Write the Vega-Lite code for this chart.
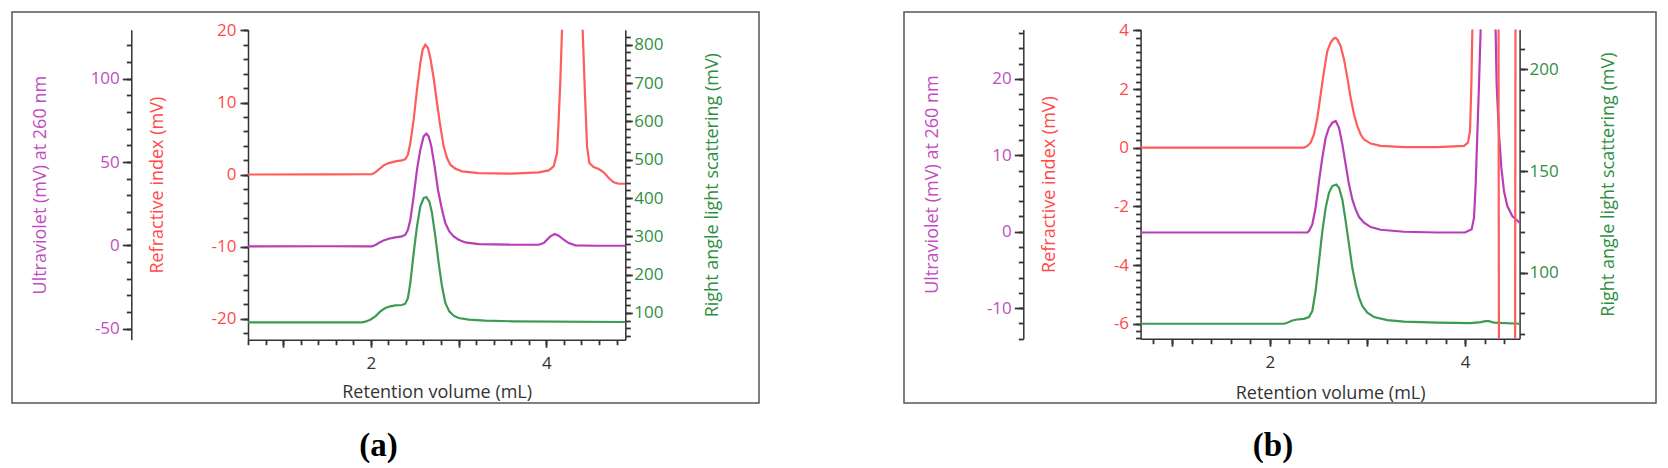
{
  "$schema": "https://vega.github.io/schema/vega-lite/v6.json",
  "background": "white",
  "padding": {"left": 11, "top": 11, "right": 4, "bottom": 2},
  "autosize": {"type": "pad"},
  "spacing": 143,
  "config": {
    "view": {"stroke": "#555555", "strokeWidth": 1.5},
    "axis": {
      "grid": false,
      "domainColor": "#333333",
      "domainWidth": 1.5,
      "tickColor": "#333333",
      "tickWidth": 1.8,
      "labelFont": "Open Sans",
      "titleFont": "Open Sans",
      "labelFontSize": 17,
      "titleFontSize": 18,
      "titleFontWeight": "normal",
      "labelOverlap": false,
      "labelFlush": false,
      "labelBound": false
    }
  },
  "datasets": {
    "a_ri": [
      {"x": 0.6, "y": 0, "s": 1}, {"x": 1.5, "y": 0.02, "s": 1}, {"x": 2.013, "y": 0.05, "s": 1}, {"x": 2.051, "y": 0.3, "s": 1},
      {"x": 2.089, "y": 0.67, "s": 1}, {"x": 2.146, "y": 1.27, "s": 1}, {"x": 2.203, "y": 1.59, "s": 1}, {"x": 2.279, "y": 1.82, "s": 1},
      {"x": 2.355, "y": 1.96, "s": 1}, {"x": 2.393, "y": 2.15, "s": 1}, {"x": 2.423, "y": 2.75, "s": 1}, {"x": 2.45, "y": 4.37, "s": 1},
      {"x": 2.488, "y": 7.61, "s": 1}, {"x": 2.526, "y": 11.78, "s": 1}, {"x": 2.564, "y": 15.48, "s": 1}, {"x": 2.59, "y": 17.33, "s": 1},
      {"x": 2.621, "y": 18.03, "s": 1}, {"x": 2.651, "y": 17.56, "s": 1}, {"x": 2.678, "y": 16.18, "s": 1}, {"x": 2.716, "y": 13.4, "s": 1},
      {"x": 2.754, "y": 9.93, "s": 1}, {"x": 2.792, "y": 6.69, "s": 1}, {"x": 2.83, "y": 3.91, "s": 1}, {"x": 2.868, "y": 2.29, "s": 1},
      {"x": 2.906, "y": 1.36, "s": 1}, {"x": 2.963, "y": 0.81, "s": 1}, {"x": 3.039, "y": 0.44, "s": 1}, {"x": 3.229, "y": 0.2, "s": 1},
      {"x": 3.609, "y": 0.11, "s": 1}, {"x": 3.913, "y": 0.3, "s": 1}, {"x": 4.027, "y": 0.57, "s": 1}, {"x": 4.084, "y": 1.13, "s": 1},
      {"x": 4.122, "y": 2.98, "s": 1}, {"x": 4.141, "y": 7.61, "s": 1}, {"x": 4.16, "y": 13.17, "s": 1}, {"x": 4.179, "y": 20.11, "s": 1},
      {"x": 4.414, "y": 20.11, "s": 2}, {"x": 4.437, "y": 12.24, "s": 2}, {"x": 4.464, "y": 3.91, "s": 2}, {"x": 4.49, "y": 1.59, "s": 2},
      {"x": 4.539, "y": 1.04, "s": 2}, {"x": 4.597, "y": 0.76, "s": 2}, {"x": 4.654, "y": 0.3, "s": 2}, {"x": 4.711, "y": -0.49, "s": 2},
      {"x": 4.768, "y": -1.09, "s": 2}, {"x": 4.825, "y": -1.28, "s": 2}, {"x": 4.9, "y": -1.28, "s": 2}
    ],
    "a_uv": [
      {"x": 0.6, "y": -0.6}, {"x": 1.5, "y": -0.5}, {"x": 2.013, "y": -0.6}, {"x": 2.051, "y": 0.2}, {"x": 2.089, "y": 1.4},
      {"x": 2.146, "y": 3.0}, {"x": 2.203, "y": 4.0}, {"x": 2.279, "y": 4.8}, {"x": 2.355, "y": 5.4}, {"x": 2.393, "y": 6.4},
      {"x": 2.423, "y": 9.4}, {"x": 2.45, "y": 15.4}, {"x": 2.488, "y": 29.4}, {"x": 2.526, "y": 45.4}, {"x": 2.564, "y": 57.4},
      {"x": 2.602, "y": 65.4}, {"x": 2.632, "y": 67.0}, {"x": 2.659, "y": 65.4}, {"x": 2.689, "y": 59.4}, {"x": 2.727, "y": 47.4},
      {"x": 2.765, "y": 33.4}, {"x": 2.811, "y": 21.4}, {"x": 2.849, "y": 13.4}, {"x": 2.894, "y": 8.4}, {"x": 2.944, "y": 5.4},
      {"x": 3.001, "y": 3.4}, {"x": 3.077, "y": 1.8}, {"x": 3.229, "y": 0.8}, {"x": 3.609, "y": 0.4}, {"x": 3.913, "y": 0.4},
      {"x": 3.97, "y": 1.4}, {"x": 4.008, "y": 3.4}, {"x": 4.046, "y": 5.4}, {"x": 4.095, "y": 6.8}, {"x": 4.141, "y": 5.8},
      {"x": 4.198, "y": 3.4}, {"x": 4.255, "y": 1.4}, {"x": 4.331, "y": 0.0}, {"x": 4.564, "y": -0.2}, {"x": 4.9, "y": -0.2}
    ],
    "a_ls": [
      {"x": 0.6, "y": 75.6}, {"x": 1.5, "y": 75.6}, {"x": 1.899, "y": 75.6}, {"x": 1.937, "y": 77.4}, {"x": 1.994, "y": 82.6},
      {"x": 2.051, "y": 91.3}, {"x": 2.108, "y": 104.3}, {"x": 2.165, "y": 113.0}, {"x": 2.222, "y": 117.4}, {"x": 2.279, "y": 120.0},
      {"x": 2.355, "y": 120.8}, {"x": 2.393, "y": 124.3}, {"x": 2.423, "y": 139.1}, {"x": 2.45, "y": 178.2}, {"x": 2.488, "y": 256.5},
      {"x": 2.526, "y": 326.0}, {"x": 2.564, "y": 378.2}, {"x": 2.602, "y": 400.0}, {"x": 2.632, "y": 402.6}, {"x": 2.666, "y": 391.3},
      {"x": 2.697, "y": 360.9}, {"x": 2.735, "y": 300.0}, {"x": 2.773, "y": 230.4}, {"x": 2.811, "y": 169.6}, {"x": 2.849, "y": 126.1},
      {"x": 2.894, "y": 104.3}, {"x": 2.944, "y": 93.0}, {"x": 3.001, "y": 86.9}, {"x": 3.115, "y": 82.6}, {"x": 3.305, "y": 80.0},
      {"x": 3.609, "y": 78.3}, {"x": 4.9, "y": 76.5}
    ],
    "b_ri": [
      {"x": 0.676, "y": 0, "s": 1}, {"x": 1.5, "y": 0.0, "s": 1}, {"x": 2.35, "y": 0.0, "s": 1}, {"x": 2.384, "y": 0.06, "s": 1},
      {"x": 2.418, "y": 0.17, "s": 1}, {"x": 2.452, "y": 0.45, "s": 1}, {"x": 2.487, "y": 1.02, "s": 1}, {"x": 2.521, "y": 1.82, "s": 1},
      {"x": 2.555, "y": 2.61, "s": 1}, {"x": 2.589, "y": 3.29, "s": 1}, {"x": 2.623, "y": 3.58, "s": 1}, {"x": 2.657, "y": 3.73, "s": 1},
      {"x": 2.675, "y": 3.74, "s": 1}, {"x": 2.692, "y": 3.69, "s": 1}, {"x": 2.726, "y": 3.46, "s": 1}, {"x": 2.76, "y": 3.01, "s": 1},
      {"x": 2.794, "y": 2.39, "s": 1}, {"x": 2.828, "y": 1.7, "s": 1}, {"x": 2.862, "y": 1.14, "s": 1}, {"x": 2.896, "y": 0.74, "s": 1},
      {"x": 2.931, "y": 0.45, "s": 1}, {"x": 2.965, "y": 0.28, "s": 1}, {"x": 3.033, "y": 0.14, "s": 1}, {"x": 3.136, "y": 0.06, "s": 1},
      {"x": 3.375, "y": 0.02, "s": 1}, {"x": 3.716, "y": 0.02, "s": 1}, {"x": 3.989, "y": 0.06, "s": 1}, {"x": 4.03, "y": 0.17, "s": 1},
      {"x": 4.051, "y": 0.57, "s": 1}, {"x": 4.065, "y": 2.16, "s": 1}, {"x": 4.075, "y": 4.031, "s": 1},
      {"x": 4.343, "y": 4.031, "s": 2}, {"x": 4.347, "y": -6.508, "s": 2},
      {"x": 4.513, "y": -6.508, "s": 3}, {"x": 4.517, "y": 4.031, "s": 3}
    ],
    "b_uv": [
      {"x": 0.676, "y": -0.1, "s": 1}, {"x": 2.384, "y": -0.1, "s": 1}, {"x": 2.401, "y": 0.09, "s": 1}, {"x": 2.435, "y": 0.96, "s": 1},
      {"x": 2.469, "y": 3.14, "s": 1}, {"x": 2.504, "y": 6.63, "s": 1}, {"x": 2.538, "y": 9.69, "s": 1}, {"x": 2.572, "y": 12.3, "s": 1},
      {"x": 2.606, "y": 13.61, "s": 1}, {"x": 2.64, "y": 14.27, "s": 1}, {"x": 2.675, "y": 14.49, "s": 1}, {"x": 2.709, "y": 13.61, "s": 1},
      {"x": 2.743, "y": 11.43, "s": 1}, {"x": 2.777, "y": 8.81, "s": 1}, {"x": 2.811, "y": 6.2, "s": 1}, {"x": 2.845, "y": 4.23, "s": 1},
      {"x": 2.879, "y": 2.92, "s": 1}, {"x": 2.914, "y": 1.92, "s": 1}, {"x": 2.965, "y": 1.18, "s": 1}, {"x": 3.033, "y": 0.61, "s": 1},
      {"x": 3.136, "y": 0.26, "s": 1}, {"x": 3.375, "y": 0.0, "s": 1}, {"x": 3.716, "y": -0.1, "s": 1}, {"x": 4.0, "y": -0.1, "s": 1},
      {"x": 4.068, "y": 0.31, "s": 1}, {"x": 4.092, "y": 1.83, "s": 1}, {"x": 4.109, "y": 6.2, "s": 1}, {"x": 4.126, "y": 12.74, "s": 1},
      {"x": 4.143, "y": 19.28, "s": 1}, {"x": 4.16, "y": 26.48, "s": 1},
      {"x": 4.313, "y": 26.48, "s": 2}, {"x": 4.324, "y": 19.28, "s": 2}, {"x": 4.348, "y": 12.74, "s": 2}, {"x": 4.372, "y": 8.38, "s": 2},
      {"x": 4.399, "y": 5.32, "s": 2}, {"x": 4.433, "y": 3.36, "s": 2}, {"x": 4.484, "y": 2.05, "s": 2}, {"x": 4.559, "y": 1.18, "s": 2}
    ],
    "b_ls": [
      {"x": 0.676, "y": 74.9}, {"x": 2.145, "y": 74.9}, {"x": 2.179, "y": 75.4}, {"x": 2.231, "y": 76.5}, {"x": 2.282, "y": 77.0},
      {"x": 2.35, "y": 77.3}, {"x": 2.401, "y": 78.2}, {"x": 2.435, "y": 81.1}, {"x": 2.469, "y": 91.0}, {"x": 2.504, "y": 105.7},
      {"x": 2.538, "y": 120.5}, {"x": 2.572, "y": 131.9}, {"x": 2.606, "y": 139.3}, {"x": 2.64, "y": 142.6}, {"x": 2.681, "y": 143.4},
      {"x": 2.709, "y": 141.8}, {"x": 2.743, "y": 136.0}, {"x": 2.777, "y": 125.4}, {"x": 2.811, "y": 113.9}, {"x": 2.845, "y": 102.4},
      {"x": 2.879, "y": 94.2}, {"x": 2.914, "y": 87.7}, {"x": 2.948, "y": 83.6}, {"x": 2.999, "y": 80.3}, {"x": 3.067, "y": 78.2},
      {"x": 3.204, "y": 76.7}, {"x": 3.375, "y": 75.9}, {"x": 3.716, "y": 75.4}, {"x": 4.058, "y": 75.2}, {"x": 4.16, "y": 75.7},
      {"x": 4.211, "y": 76.2}, {"x": 4.245, "y": 76.2}, {"x": 4.297, "y": 75.4}, {"x": 4.559, "y": 74.9}
    ]
  },
  "hconcat": [
    {
      "width": 747,
      "height": 391,
      "title": {"text": "(a)", "orient": "bottom", "anchor": "middle", "font": "Liberation Serif", "fontSize": 33, "fontWeight": "bold", "color": "#000000", "baseline": "alphabetic", "offset": 53, "dx": -7},
      "layer": [
        {
          "data": {"name": "a_ls"},
          "mark": {"type": "line", "color": "#3c9a52", "strokeWidth": 2.2},
          "encoding": {
            "x": {
              "field": "x", "type": "quantitative",
              "scale": {"domain": [0.6, 4.9], "range": [236, 613.3], "nice": false, "zero": false},
              "axis": {
                "orient": "bottom", "offset": -63.3,
                "title": "Retention volume (mL)", "titleColor": "#333333", "titleY": 58, "titleBaseline": "alphabetic",
                "values": [1, 2, 3, 4],
                "labelExpr": "datum.value === 2 || datum.value === 4 ? toString(datum.value) : ''",
                "labelColor": "#333333", "labelPadding": 8, "tickSize": 7.5
              }
            },
            "y": {
              "field": "y", "type": "quantitative",
              "scale": {"domain": [30.34, 839.1], "range": [327.7, 17.7], "nice": false, "zero": false},
              "axis": {
                "orient": "right", "offset": -133.7, "title": "Right angle light scattering (mV)",
                "titleColor": "#2f8f3f", "titleAngle": 270, "titleBaseline": "middle", "titleX": 87,
                "labelColor": "#2f8f3f", "labelPadding": 1.5, "tickSize": 7,
                "values": [100, 200, 300, 400, 500, 600, 700, 800],
                "labelExpr": "toString(datum.value)"
              }
            }
          }
        },
        {
          "data": {"name": "a_ls"},
          "mark": {"type": "line", "opacity": 0},
          "encoding": {
            "x": {
              "field": "x", "type": "quantitative",
              "scale": {"domain": [0.6, 4.9], "range": [236, 613.3], "nice": false, "zero": false},
              "axis": {
                "orient": "bottom", "offset": -63.3, "title": null, "labels": false, "domain": false, "tickSize": 5,
                "values": [0.6, 0.8, 1, 1.2, 1.4, 1.6, 1.8, 2, 2.2, 2.4, 2.6, 2.8, 3, 3.2, 3.4, 3.6, 3.8, 4, 4.2, 4.4, 4.6, 4.8]
              }
            },
            "y": {
              "field": "y", "type": "quantitative",
              "scale": {"domain": [30.34, 839.1], "range": [327.7, 17.7], "nice": false, "zero": false},
              "axis": {
                "orient": "right", "offset": -133.7, "title": null, "labels": false, "domain": false, "tickSize": 5,
                "values": [40, 60, 80, 100, 120, 140, 160, 180, 200, 220, 240, 260, 280, 300, 320, 340, 360, 380, 400, 420, 440, 460, 480, 500, 520, 540, 560, 580, 600, 620, 640, 660, 680, 700, 720, 740, 760, 780, 800, 820]
              }
            }
          }
        },
        {
          "data": {"name": "a_uv"},
          "mark": {"type": "line", "color": "#b83db8", "strokeWidth": 2.2},
          "encoding": {
            "x": {"field": "x", "type": "quantitative", "scale": {"domain": [0.6, 4.9], "range": [236, 613.3], "nice": false, "zero": false}, "axis": null},
            "y": {
              "field": "y", "type": "quantitative",
              "scale": {"domain": [-56.53, 129.32], "range": [327.7, 17.7], "nice": false, "zero": false},
              "axis": {
                "orient": "left", "offset": -119.3, "title": "Ultraviolet (mV) at 260 nm",
                "titleColor": "#c04ec0", "titleAngle": 270, "titleBaseline": "middle", "titleX": -91,
                "labelColor": "#c04ec0", "labelPadding": 3, "tickSize": 9,
                "values": [-50, 0, 50, 100],
                "labelExpr": "toString(datum.value)"
              }
            }
          }
        },
        {
          "data": {"name": "a_uv"},
          "mark": {"type": "line", "opacity": 0},
          "encoding": {
            "x": {"field": "x", "type": "quantitative", "scale": {"domain": [0.6, 4.9], "range": [236, 613.3], "nice": false, "zero": false}, "axis": null},
            "y": {
              "field": "y", "type": "quantitative",
              "scale": {"domain": [-56.53, 129.32], "range": [327.7, 17.7], "nice": false, "zero": false},
              "axis": {
                "orient": "left", "offset": -119.3, "title": null, "labels": false, "domain": false, "tickSize": 5,
                "values": [-50, -40, -30, -20, -10, 0, 10, 20, 30, 40, 50, 60, 70, 80, 90, 100, 110, 120]
              }
            }
          }
        },
        {
          "data": {"name": "a_ri"},
          "mark": {"type": "line", "color": "#ff5c5c", "strokeWidth": 2.2},
          "encoding": {
            "x": {"field": "x", "type": "quantitative", "scale": {"domain": [0.6, 4.9], "range": [236, 613.3], "nice": false, "zero": false}, "axis": null},
            "detail": {"field": "s", "type": "nominal"},
            "y": {
              "field": "y", "type": "quantitative",
              "scale": {"domain": [-22.94, 20.11], "range": [327.7, 17.7], "nice": false, "zero": false},
              "axis": {
                "orient": "left", "offset": -236, "title": "Refractive index (mV)",
                "titleColor": "#ff4a4a", "titleAngle": 270, "titleBaseline": "middle", "titleX": -91,
                "labelColor": "#ff4a4a", "labelPadding": 4, "tickSize": 8,
                "values": [-20, -10, 0, 10, 20],
                "labelExpr": "toString(datum.value)"
              }
            }
          }
        },
        {
          "data": {"name": "a_ri"},
          "mark": {"type": "line", "opacity": 0},
          "encoding": {
            "x": {"field": "x", "type": "quantitative", "scale": {"domain": [0.6, 4.9], "range": [236, 613.3], "nice": false, "zero": false}, "axis": null},
            "detail": {"field": "s", "type": "nominal"},
            "y": {
              "field": "y", "type": "quantitative",
              "scale": {"domain": [-22.94, 20.11], "range": [327.7, 17.7], "nice": false, "zero": false},
              "axis": {
                "orient": "left", "offset": -236, "title": null, "labels": false, "domain": false, "tickSize": 5,
                "values": [-22, -20, -18, -16, -14, -12, -10, -8, -6, -4, -2, 0, 2, 4, 6, 8, 10, 12, 14, 16, 18, 20]
              }
            }
          }
        }
      ],
      "resolve": {"scale": {"y": "independent"}, "axis": {"y": "independent", "x": "independent"}}
    },
    {
      "width": 752,
      "height": 391,
      "title": {"text": "(b)", "orient": "bottom", "anchor": "middle", "font": "Liberation Serif", "fontSize": 33, "fontWeight": "bold", "color": "#000000", "baseline": "alphabetic", "offset": 53, "dx": -7},
      "layer": [
        {
          "data": {"name": "b_ls"},
          "mark": {"type": "line", "color": "#3c9a52", "strokeWidth": 2.2},
          "encoding": {
            "x": {
              "field": "x", "type": "quantitative",
              "scale": {"domain": [0.676, 4.559], "range": [236.6, 615.6], "nice": false, "zero": false},
              "axis": {
                "orient": "bottom", "offset": -64.3,
                "title": "Retention volume (mL)", "titleColor": "#333333", "titleY": 60, "titleBaseline": "alphabetic",
                "values": [1, 2, 3, 4],
                "labelExpr": "datum.value === 2 || datum.value === 4 ? toString(datum.value) : ''",
                "labelColor": "#333333", "labelPadding": 8, "tickSize": 7.5
              }
            },
            "y": {
              "field": "y", "type": "quantitative",
              "scale": {"domain": [67.54, 219.68], "range": [326.7, 17.4], "nice": false, "zero": false},
              "axis": {
                "orient": "right", "offset": -136.4, "title": "Right angle light scattering (mV)",
                "titleColor": "#2f8f3f", "titleAngle": 270, "titleBaseline": "middle", "titleX": 89,
                "labelColor": "#2f8f3f", "labelPadding": 1.5, "tickSize": 8,
                "values": [100, 150, 200],
                "labelExpr": "toString(datum.value)"
              }
            }
          }
        },
        {
          "data": {"name": "b_ls"},
          "mark": {"type": "line", "opacity": 0},
          "encoding": {
            "x": {
              "field": "x", "type": "quantitative",
              "scale": {"domain": [0.676, 4.559], "range": [236.6, 615.6], "nice": false, "zero": false},
              "axis": {
                "orient": "bottom", "offset": -64.3, "title": null, "labels": false, "domain": false, "tickSize": 5,
                "values": [0.8, 1, 1.2, 1.4, 1.6, 1.8, 2, 2.2, 2.4, 2.6, 2.8, 3, 3.2, 3.4, 3.6, 3.8, 4, 4.2, 4.4]
              }
            },
            "y": {
              "field": "y", "type": "quantitative",
              "scale": {"domain": [67.54, 219.68], "range": [326.7, 17.4], "nice": false, "zero": false},
              "axis": {
                "orient": "right", "offset": -136.4, "title": null, "labels": false, "domain": false, "tickSize": 5,
                "values": [70, 80, 90, 100, 110, 120, 130, 140, 150, 160, 170, 180, 190, 200, 210]
              }
            }
          }
        },
        {
          "data": {"name": "b_uv"},
          "mark": {"type": "line", "color": "#b83db8", "strokeWidth": 2.2},
          "encoding": {
            "x": {"field": "x", "type": "quantitative", "scale": {"domain": [0.676, 4.559], "range": [236.6, 615.6], "nice": false, "zero": false}, "axis": null},
            "detail": {"field": "s", "type": "nominal"},
            "y": {
              "field": "y", "type": "quantitative",
              "scale": {"domain": [-14.0, 26.48], "range": [326.7, 17.4], "nice": false, "zero": false},
              "axis": {
                "orient": "left", "offset": -119.3, "title": "Ultraviolet (mV) at 260 nm",
                "titleColor": "#c04ec0", "titleAngle": 270, "titleBaseline": "middle", "titleX": -91,
                "labelColor": "#c04ec0", "labelPadding": 3, "tickSize": 9,
                "values": [-10, 0, 10, 20],
                "labelExpr": "toString(datum.value)"
              }
            }
          }
        },
        {
          "data": {"name": "b_uv"},
          "mark": {"type": "line", "opacity": 0},
          "encoding": {
            "x": {"field": "x", "type": "quantitative", "scale": {"domain": [0.676, 4.559], "range": [236.6, 615.6], "nice": false, "zero": false}, "axis": null},
            "detail": {"field": "s", "type": "nominal"},
            "y": {
              "field": "y", "type": "quantitative",
              "scale": {"domain": [-14.0, 26.48], "range": [326.7, 17.4], "nice": false, "zero": false},
              "axis": {
                "orient": "left", "offset": -119.3, "title": null, "labels": false, "domain": false, "tickSize": 5,
                "values": [-14, -12, -10, -8, -6, -4, -2, 0, 2, 4, 6, 8, 10, 12, 14, 16, 18, 20, 22, 24, 26]
              }
            }
          }
        },
        {
          "data": {"name": "b_ri"},
          "mark": {"type": "line", "color": "#ff5c5c", "strokeWidth": 2.2},
          "encoding": {
            "x": {"field": "x", "type": "quantitative", "scale": {"domain": [0.676, 4.559], "range": [236.6, 615.6], "nice": false, "zero": false}, "axis": null},
            "detail": {"field": "s", "type": "nominal"},
            "y": {
              "field": "y", "type": "quantitative",
              "scale": {"domain": [-6.508, 4.031], "range": [326.7, 17.4], "nice": false, "zero": false},
              "axis": {
                "orient": "left", "offset": -236.6, "title": "Refractive index (mV)",
                "titleColor": "#ff4a4a", "titleAngle": 270, "titleBaseline": "middle", "titleX": -91.5,
                "labelColor": "#ff4a4a", "labelPadding": 4, "tickSize": 8,
                "values": [-6, -4, -2, 0, 2, 4],
                "labelExpr": "toString(datum.value)"
              }
            }
          }
        },
        {
          "data": {"name": "b_ri"},
          "mark": {"type": "line", "opacity": 0},
          "encoding": {
            "x": {"field": "x", "type": "quantitative", "scale": {"domain": [0.676, 4.559], "range": [236.6, 615.6], "nice": false, "zero": false}, "axis": null},
            "detail": {"field": "s", "type": "nominal"},
            "y": {
              "field": "y", "type": "quantitative",
              "scale": {"domain": [-6.508, 4.031], "range": [326.7, 17.4], "nice": false, "zero": false},
              "axis": {
                "orient": "left", "offset": -236.6, "title": null, "labels": false, "domain": false, "tickSize": 5,
                "values": [-6.5, -6.25, -6, -5.75, -5.5, -5.25, -5, -4.75, -4.5, -4.25, -4, -3.75, -3.5, -3.25, -3, -2.75, -2.5, -2.25, -2, -1.75, -1.5, -1.25, -1, -0.75, -0.5, -0.25, 0, 0.25, 0.5, 0.75, 1, 1.25, 1.5, 1.75, 2, 2.25, 2.5, 2.75, 3, 3.25, 3.5, 3.75, 4]
              }
            }
          }
        }
      ],
      "resolve": {"scale": {"y": "independent"}, "axis": {"y": "independent", "x": "independent"}}
    }
  ]
}
